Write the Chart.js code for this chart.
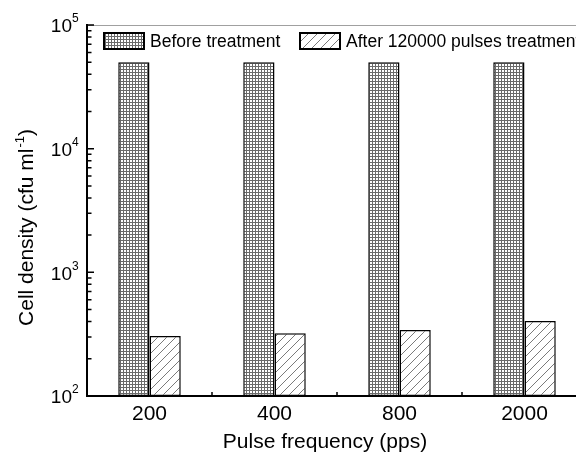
<!DOCTYPE html>
<html>
<head>
<meta charset="utf-8">
<script src="https://cdn.jsdelivr.net/npm/chart.js@4"></script>
<style>
html,body{margin:0;padding:0;background:#fff;overflow:hidden;width:576px;height:452px;}
#wrap{width:600px;height:452px;}
</style>
</head>
<body>
<div id="wrap"><canvas id="c" width="600" height="452"></canvas></div>
<script>
const categories = ["200", "400", "800", "2000"];
const beforeValues = [50000, 50000, 50000, 50000];
const afterValues = [305, 322, 342, 405];
const seriesLabels = ["Before treatment", "After 120000 pulses treatment"];
const yDecades = [100, 1000, 10000, 100000];
const yExponents = ["2", "3", "4", "5"];
const xTitle = "Pulse frequency (pps)";
const yTitleMain = "Cell density (cfu ml";
const yTitleSup = "-1";
const yTitleEnd = ")";

const FONT = '"Liberation Sans", Arial, Helvetica, sans-serif';

function gridPattern() {
  const t = document.createElement('canvas');
  t.width = 3; t.height = 3;
  const g = t.getContext('2d');
  g.fillStyle = '#fff'; g.fillRect(0, 0, 3, 3);
  g.fillStyle = '#6a6a6a';
  g.fillRect(0, 0, 3, 1);
  g.fillRect(0, 0, 1, 3);
  return g.createPattern(t, 'repeat');
}
function hatchPattern() {
  const s = 9;
  const t = document.createElement('canvas');
  t.width = s; t.height = s;
  const g = t.getContext('2d');
  g.fillStyle = '#fff'; g.fillRect(0, 0, s, s);
  g.strokeStyle = '#7a7a7a'; g.lineWidth = 1;
  g.beginPath();
  g.moveTo(0, s); g.lineTo(s, 0);
  g.moveTo(-1, 1); g.lineTo(1, -1);
  g.moveTo(s - 1, s + 1); g.lineTo(s + 1, s - 1);
  g.stroke();
  return g.createPattern(t, 'repeat');
}
const pGrid = gridPattern();
const pHatch = hatchPattern();

const decor = {
  id: 'decor',
  afterDraw(chart) {
    const ctx = chart.ctx;
    const a = chart.chartArea;
    const ys = chart.scales.y, xs = chart.scales.x;
    ctx.save();
    // top frame line
    ctx.strokeStyle = '#a0a0a0'; ctx.lineWidth = 1;
    ctx.beginPath(); ctx.moveTo(a.left, a.top + 0.5); ctx.lineTo(a.right, a.top + 0.5); ctx.stroke();
    // axes
    ctx.strokeStyle = '#000'; ctx.lineWidth = 2;
    ctx.beginPath();
    ctx.moveTo(a.left, a.top - 1); ctx.lineTo(a.left, a.bottom + 1);
    ctx.moveTo(a.left - 1, a.bottom); ctx.lineTo(a.right, a.bottom);
    ctx.stroke();
    // y ticks (inward)
    ctx.lineWidth = 1.5;
    ctx.beginPath();
    for (let d = 0; d < yDecades.length; d++) {
      const base = yDecades[d];
      const py = ys.getPixelForValue(base);
      ctx.moveTo(a.left, py); ctx.lineTo(a.left + 7, py);
      if (d < yDecades.length - 1) {
        for (let m = 2; m <= 9; m++) {
          const my = ys.getPixelForValue(base * m);
          ctx.moveTo(a.left, my); ctx.lineTo(a.left + 4.5, my);
        }
      }
    }
    // x minor ticks at category boundaries
    for (let i = 0; i < categories.length - 1; i++) {
      const px = (xs.getPixelForValue(i) + xs.getPixelForValue(i + 1)) / 2;
      ctx.moveTo(px, a.bottom); ctx.lineTo(px, a.bottom - 4);
    }
    ctx.stroke();
    // y labels
    ctx.fillStyle = '#000';
    for (let d = 0; d < yDecades.length; d++) {
      const py = ys.getPixelForValue(yDecades[d]);
      ctx.font = '19px ' + FONT;
      ctx.textAlign = 'right'; ctx.textBaseline = 'middle';
      ctx.fillText('10', 72, py + 2);
      ctx.font = '12px ' + FONT;
      ctx.textAlign = 'left';
      ctx.fillText(yExponents[d], 72, py - 6);
    }
    // x labels
    ctx.font = '21px ' + FONT;
    ctx.textAlign = 'center'; ctx.textBaseline = 'middle';
    for (let i = 0; i < categories.length; i++) {
      ctx.fillText(categories[i], xs.getPixelForValue(i), 414);
    }
    // x title
    ctx.fillText(xTitle, 325, 442);
    // y title
    ctx.save();
    ctx.translate(27, 228);
    ctx.rotate(-Math.PI / 2);
    ctx.textAlign = 'left'; ctx.textBaseline = 'middle';
    ctx.font = '21px ' + FONT;
    const w1 = ctx.measureText(yTitleMain).width;
    const w3 = ctx.measureText(yTitleEnd).width;
    ctx.font = '13px ' + FONT;
    const w2 = ctx.measureText(yTitleSup).width;
    let x0 = -(w1 + w2 + w3) / 2;
    ctx.font = '21px ' + FONT;
    ctx.fillText(yTitleMain, x0, 0);
    ctx.font = '13px ' + FONT;
    ctx.fillText(yTitleSup, x0 + w1 + 1, -7);
    ctx.font = '21px ' + FONT;
    ctx.fillText(yTitleEnd, x0 + w1 + w2 + 1, 0);
    ctx.restore();
    // legend
    const items = [
      {x: 104, fill: pGrid, label: chart.data.datasets[0].label},
      {x: 300, fill: pHatch, label: chart.data.datasets[1].label}
    ];
    ctx.font = '17.5px ' + FONT;
    ctx.textAlign = 'left'; ctx.textBaseline = 'middle';
    items.forEach(it => {
      ctx.fillStyle = it.fill;
      ctx.fillRect(it.x, 33, 40, 16);
      ctx.strokeStyle = '#000'; ctx.lineWidth = 2;
      ctx.strokeRect(it.x, 33, 40, 16);
      ctx.fillStyle = '#000';
      ctx.fillText(it.label, it.x + 46, 42);
    });
    ctx.restore();
  }
};

new Chart(document.getElementById('c'), {
  type: 'bar',
  data: {
    labels: categories,
    datasets: [
      {label: seriesLabels[0], data: beforeValues, backgroundColor: pGrid, borderColor: '#000', borderWidth: 1.5, borderSkipped: false},
      {label: seriesLabels[1], data: afterValues, backgroundColor: pHatch, borderColor: '#000', borderWidth: 1.5, borderSkipped: false}
    ]
  },
  options: {
    responsive: false,
    animation: false,
    devicePixelRatio: 1,
    layout: {padding: {left: 87, right: 13, top: 25, bottom: 56}},
    plugins: {legend: {display: false}, tooltip: {enabled: false}, title: {display: false}},
    datasets: {bar: {categoryPercentage: 0.5, barPercentage: 1.0}},
    scales: {
      x: {display: false, offset: true},
      y: {display: false, type: 'logarithmic', min: 100, max: 100000}
    }
  },
  plugins: [decor]
});
</script>
</body>
</html>
